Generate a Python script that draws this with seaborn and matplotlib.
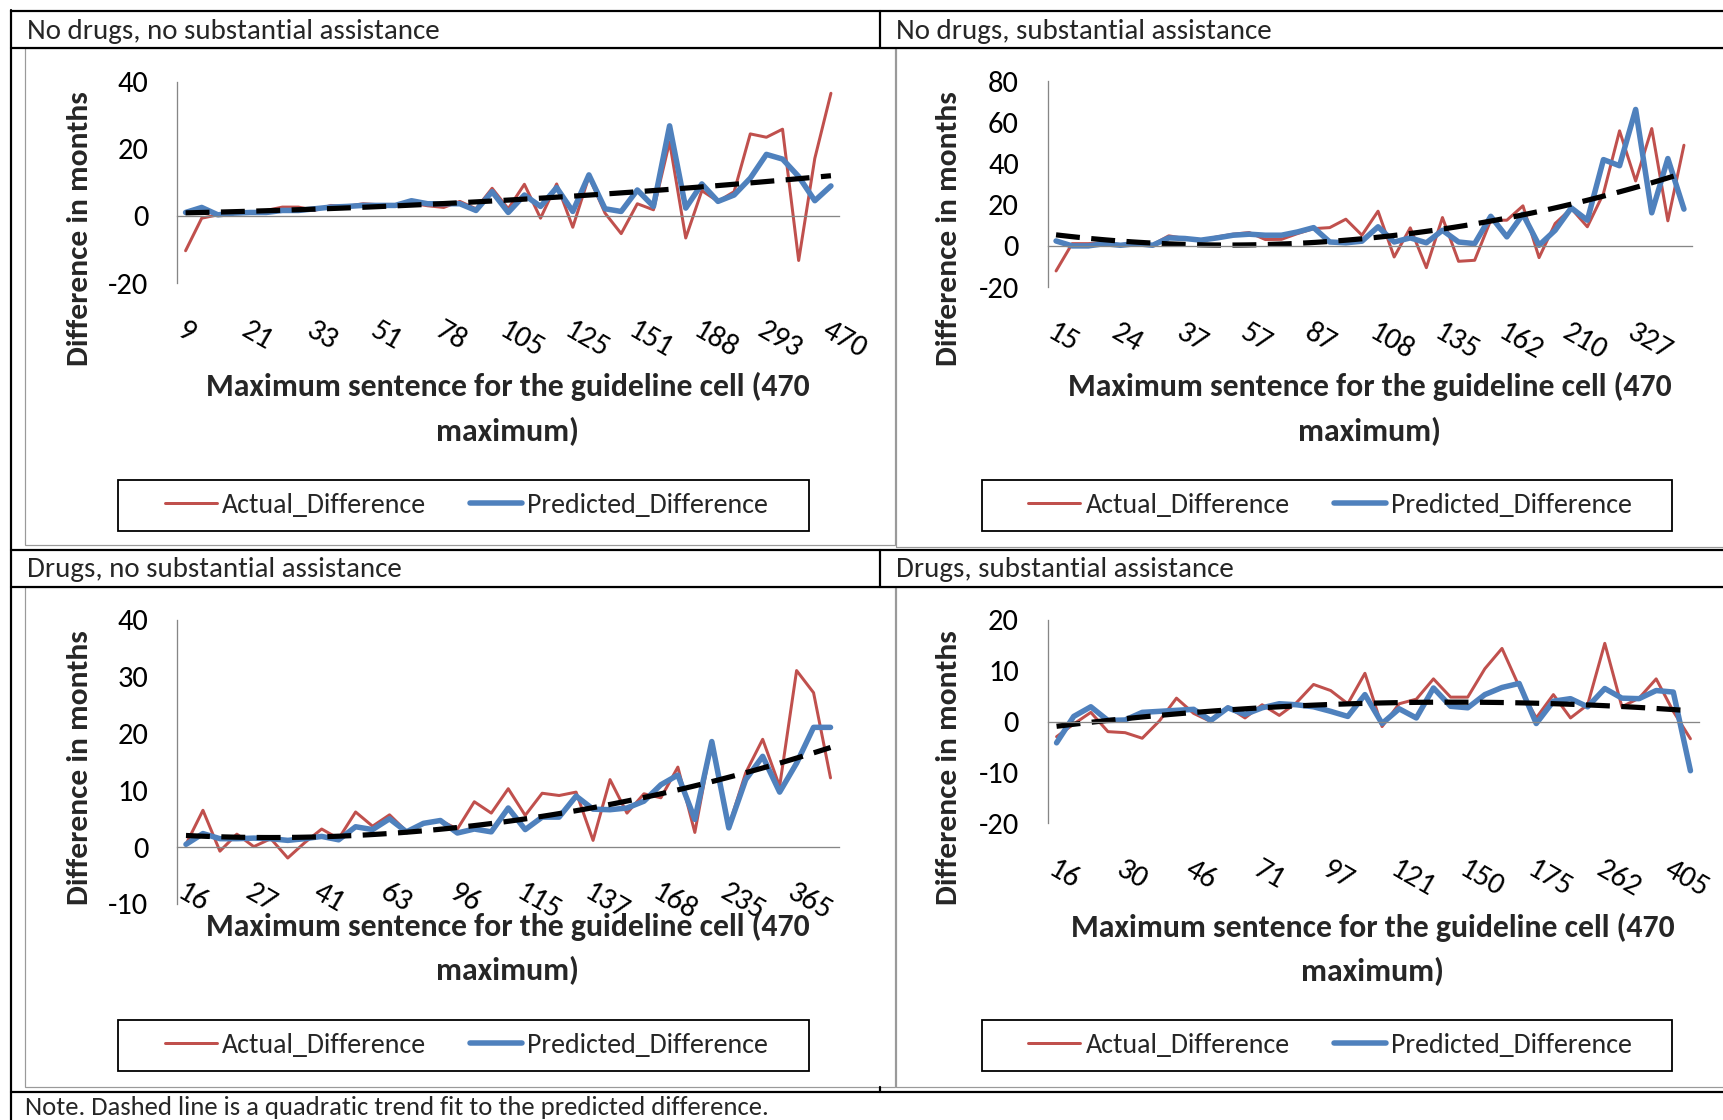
import matplotlib
matplotlib.use("Agg")
import matplotlib.pyplot as plt
import seaborn as sns
import numpy as np
from matplotlib import font_manager
from matplotlib.lines import Line2D
from matplotlib.patches import Rectangle

# ---------------- data ----------------
titles = ["No drugs, no substantial assistance",
          "No drugs, substantial assistance",
          "Drugs, no substantial assistance",
          "Drugs, substantial assistance"]

ticks_1 = ["9", "21", "33", "51", "78", "105", "125", "151", "188", "293", "470"]
actual_1 = [-10.4, -0.7, 0.3, 0.8, 1.0, 1.6, 2.6, 2.6, 1.6, 3.1, 2.8, 3.6, 3.3, 2.8, 3.8,
            3.0, 2.5, 4.3, 2.1, 8.2, 2.1, 9.4, -0.7, 9.5, -3.4, 11.7, 0.8, -5.3, 3.6, 1.8,
            22.0, -6.6, 7.5, 4.3, 7.2, 24.4, 23.4, 25.8, -13.3, 17.1, 36.5]
predicted_1 = [1.0, 2.5, 0.3, 0.8, 1.0, 1.0, 1.6, 1.6, 2.1, 2.6, 2.8, 3.1, 3.1, 3.1, 4.5,
               3.6, 3.6, 3.6, 1.6, 7.2, 1.0, 6.2, 2.8, 8.4, 1.3, 12.2, 2.1, 1.3, 7.7, 2.8,
               26.8, 2.3, 9.5, 4.3, 6.2, 11.2, 18.3, 16.9, 11.7, 4.5, 8.9]

ticks_2 = ["15", "24", "37", "57", "87", "108", "135", "162", "210", "327"]
actual_2 = [-12.2, 1.1, 1.1, 1.5, 0.6, 1.6, 0.6, 4.9, 3.6, 2.8, 4.4, 5.7, 6.5, 3.1, 3.2,
            6.0, 8.4, 8.9, 13.0, 5.2, 16.9, -5.4, 8.8, -10.6, 13.8, -7.5, -7.0, 12.5, 12.5,
            19.5, -5.7, 10.9, 18.2, 9.3, 25.5, 56.0, 31.6, 57.1, 12.2, 49.0]
predicted_2 = [2.4, 0.0, 0.0, 1.1, 0.3, 1.1, 0.3, 3.9, 3.6, 2.8, 3.9, 5.2, 5.7, 5.2, 5.2,
               6.8, 8.9, 1.9, 1.5, 2.3, 9.3, 1.9, 3.9, 1.5, 7.6, 1.9, 1.1, 14.4, 4.4, 15.4,
               0.3, 7.6, 18.5, 12.5, 42.0, 39.0, 66.4, 16.1, 42.5, 17.9]

ticks_3 = ["16", "27", "41", "63", "96", "115", "137", "168", "235", "365"]
actual_3 = [0.5, 6.5, -0.7, 2.3, 0.1, 1.5, -1.9, 0.8, 3.2, 1.5, 6.2, 3.7, 5.7, 2.8, 4.2,
            4.7, 3.2, 8.0, 6.0, 10.3, 5.6, 9.5, 9.1, 9.7, 1.2, 11.9, 6.0, 9.4, 8.7, 14.1,
            2.6, 18.6, 3.7, 13.1, 19.0, 10.7, 31.1, 27.2, 12.2]
predicted_3 = [0.5, 2.4, 1.5, 1.5, 1.6, 1.5, 1.2, 1.5, 1.9, 1.3, 3.6, 3.1, 5.0, 2.7, 4.2,
               4.7, 2.5, 3.2, 2.7, 6.9, 3.1, 5.3, 5.3, 9.0, 6.7, 6.6, 6.9, 8.1, 11.0, 12.7,
               4.9, 18.6, 3.4, 11.9, 16.0, 9.7, 14.8, 21.1, 21.1]

ticks_4 = ["16", "30", "46", "71", "97", "121", "150", "175", "262", "405"]
actual_4 = [-3.0, -0.5, 1.8, -2.0, -2.2, -3.3, 0.1, 4.6, 1.6, 0.0, 2.9, 0.7, 3.3, 1.2, 3.7,
            7.3, 6.1, 3.5, 9.5, -1.0, 3.5, 4.4, 8.4, 4.8, 4.8, 10.4, 14.4, 6.9, 0.7, 5.3,
            0.7, 3.3, 15.4, 2.9, 4.6, 8.4, 2.0, -3.4]
predicted_4 = [-4.2, 1.0, 2.9, 0.2, 0.3, 1.8, 2.0, 2.2, 2.4, 0.2, 2.7, 1.4, 2.7, 3.5, 3.3,
               2.9, 2.0, 1.0, 5.3, -0.4, 2.5, 0.7, 6.6, 3.0, 2.7, 5.3, 6.7, 7.5, -0.4, 4.0,
               4.5, 2.9, 6.5, 4.6, 4.5, 6.1, 5.8, -9.7]

series_names = ["Actual_Difference", "Predicted_Difference"]
x_title = "Maximum sentence for the guideline cell (470\nmaximum)"
y_title = "Difference in months"
note = "Note. Dashed line is a quadratic trend fit to the predicted difference."

# ---------------- style ----------------
RED = "#C0504D"
BLUE = "#4F81BD"
GREY = "#868686"
FRAME = "#9A9A9A"

sns.set_style("white")


def pick_font(cands):
    for c in cands:
        try:
            font_manager.findfont(font_manager.FontProperties(family=c),
                                  fallback_to_default=False)
            return c
        except Exception:
            pass
    return "DejaVu Sans"


FONT = pick_font(["Carlito", "Lato", "Open Sans"])
plt.rcParams["font.family"] = [FONT, "DejaVu Sans"]
plt.rcParams["axes.unicode_minus"] = False

W, H, DPI = 1724, 1120, 100
PT = 72.0 / DPI  # points per pixel

fig = plt.figure(figsize=(W / DPI, H / DPI), dpi=DPI)
fig.patch.set_facecolor("white")
renderer = fig.canvas.get_renderer()


def fx(px):
    return px / W


def fy(py):
    return 1 - py / H


def fit(text, target, weight="normal"):
    t = fig.text(0, 0, text, fontsize=20, fontweight=weight)
    w = t.get_window_extent(renderer).width
    t.remove()
    return 20.0 * target / w


fs_title = fit(titles[0], 413)
fs_note = fit(note, 743)
fs_xlab = fit("Maximum sentence for the guideline cell (470", 604, "bold")
fs_ylab = fit(y_title, 275, "bold")
fs_leg = fit(series_names[0], 204)
fs_tick = fit("80", 31)
leg_px = fs_leg / PT

# line spacing for the two-line x title: 38 px between lines
_w, _h, _d = renderer.get_text_width_height_descent(
    "lp", font_manager.FontProperties(family=plt.rcParams["font.family"],
                                      weight="bold", size=fs_xlab), ismath=False)
xlab_ls = 38.0 / (_h - _d)


# ---------------- table lines ----------------
def hline(y, x0, x1, lw=2.2, color="black", z=10):
    fig.add_artist(Line2D([fx(x0), fx(x1)], [fy(y), fy(y)], lw=lw * PT, color=color,
                          transform=fig.transFigure, zorder=z))


def vline(x, y0, y1, lw=2.2, color="black", z=10):
    fig.add_artist(Line2D([fx(x), fx(x)], [fy(y0), fy(y1)], lw=lw * PT, color=color,
                          transform=fig.transFigure, zorder=z))


for y in (11, 48, 549.5, 587, 1092):
    hline(y, 11.5, W)
vline(11.5, 10, H)
vline(880.5, 11, 48)
vline(880.5, 549.5, 587)
vline(880.5, 1087, 1092)

# ---------------- panels ----------------
layout = [
    dict(box=(177.5, 81.5, 839, 283), ylim=(-20, 40), ystep=20, pad=101,
         title_xy=(26.8, 39.3), xlab=(508, 409), ylab=(80, 228.5),
         leg=(118, 480, 808.7, 530.7), frame=(25, 48, 895, 545)),
    dict(box=(1048, 81.5, 1692, 287), ylim=(-20, 80), ystep=20, pad=73,
         title_xy=(896, 39.3), xlab=(1370, 409), ylab=(949, 228.5),
         leg=(982, 480, 1671.7, 530.7), frame=(896, 48, 1800, 547)),
    dict(box=(177.5, 620, 839, 904), ylim=(-10, 40), ystep=10, pad=32,
         title_xy=(26.8, 577), xlab=(508, 948.5), ylab=(80, 767.5),
         leg=(118, 1020, 808.7, 1070.7), frame=(25, 587, 895, 1087)),
    dict(box=(1048, 620, 1699, 823), ylim=(-20, 20), ystep=10, pad=134.5,
         title_xy=(896, 577), xlab=(1373, 949.5), ylab=(949, 767.5),
         leg=(982, 1020, 1672, 1070.7), frame=(896, 587, 1800, 1087)),
]
data = [(actual_1, predicted_1, ticks_1), (actual_2, predicted_2, ticks_2),
        (actual_3, predicted_3, ticks_3), (actual_4, predicted_4, ticks_4)]

for title, (act, pred, tlabels), L in zip(titles, data, layout):
    # chart frame
    f0x, f0y, f1x, f1y = L["frame"]
    fig.add_artist(Rectangle((fx(f0x), fy(f1y)), fx(f1x) - fx(f0x), (f1y - f0y) / H,
                             fill=False, edgecolor=FRAME, lw=1.2 * PT,
                             transform=fig.transFigure, zorder=1))
    # cell title
    fig.text(fx(L["title_xy"][0]), fy(L["title_xy"][1]), title, fontsize=fs_title,
             ha="left", va="baseline")

    l, t, r, b = L["box"]
    ax = fig.add_axes([fx(l), fy(b), fx(r) - fx(l), (b - t) / H])
    ax.set_facecolor("none")
    n = len(act)
    x = np.arange(n)

    sns.lineplot(x=x, y=np.array(act), ax=ax, color=RED, lw=3.0 * PT)
    sns.lineplot(x=x, y=np.array(pred), ax=ax, color=BLUE, lw=5.5 * PT)
    sns.regplot(x=x, y=np.array(pred), order=2, scatter=False, ci=None, ax=ax,
                truncate=True,
                line_kws=dict(color="black", lw=5.2 * PT, ls=(0, (4.6, 2.2)),
                              dash_capstyle="butt"))

    # spines first (moving a spine resets the ticks)
    for s in ("top", "right"):
        ax.spines[s].set_visible(False)
    ax.spines["bottom"].set_position(("data", 0))
    for s in ("bottom", "left"):
        ax.spines[s].set_color(GREY)
        ax.spines[s].set_linewidth(1.3 * PT)
    ax.grid(False)

    lo, hi = L["ylim"]
    ax.set_xlim(-0.5, n - 0.5)
    ax.set_ylim(lo, hi)
    ax.set_yticks(np.arange(lo, hi + 1, L["ystep"]))
    ax.set_xticks(x[::4])
    ax.set_xticklabels(tlabels)
    ax.set_xticks(np.arange(-0.5, n, 1.0), minor=True)

    ax.tick_params(axis="x", which="major", length=0, pad=L["pad"] * PT,
                   labelsize=fs_tick, labelcolor="black", labelrotation=-30)
    ax.tick_params(axis="x", which="minor", length=10 * PT, width=1.3 * PT,
                   color=GREY, direction="out")
    ax.tick_params(axis="y", which="major", length=10 * PT, width=1.3 * PT,
                   color=GREY, direction="out", pad=19 * PT, labelsize=fs_tick,
                   labelcolor="black")
    plt.setp(ax.get_xticklabels(), rotation=-30, rotation_mode="anchor",
             ha="left", va="top")

    # axis titles
    ax.set_xlabel(x_title, fontsize=fs_xlab, fontweight="bold", linespacing=xlab_ls)
    ax.xaxis.set_label_coords((L["xlab"][0] - l) / (r - l), (b - L["xlab"][1]) / (b - t))
    ax.xaxis.label.set_va("center")
    ax.set_ylabel(y_title, fontsize=fs_ylab, fontweight="bold")
    ax.yaxis.set_label_coords((L["ylab"][0] - l) / (r - l), (b - L["ylab"][1]) / (b - t))
    ax.yaxis.label.set_va("center")

    # legend
    g0x, g0y, g1x, g1y = L["leg"]
    fig.add_artist(Rectangle((fx(g0x), fy(g1y)), fx(g1x) - fx(g0x), (g1y - g0y) / H,
                             fill=False, edgecolor="black", lw=1.8 * PT,
                             transform=fig.transFigure, zorder=5))
    handles = [Line2D([], [], color=RED, lw=3.0 * PT),
               Line2D([], [], color=BLUE, lw=5.5 * PT)]
    ax.legend(handles, series_names, loc="center left",
              bbox_to_anchor=(fx(g0x + 46.5), fy((g0y + g1y) / 2)),
              bbox_transform=fig.transFigure, ncol=2, frameon=False,
              borderpad=0, borderaxespad=0, fontsize=fs_leg,
              handlelength=52 / leg_px, handletextpad=5 / leg_px,
              columnspacing=44 / leg_px)

fig.text(fx(25.5), fy(1115), note, fontsize=fs_note, ha="left", va="baseline")

fig.savefig("out.png", dpi=DPI, facecolor="white")
